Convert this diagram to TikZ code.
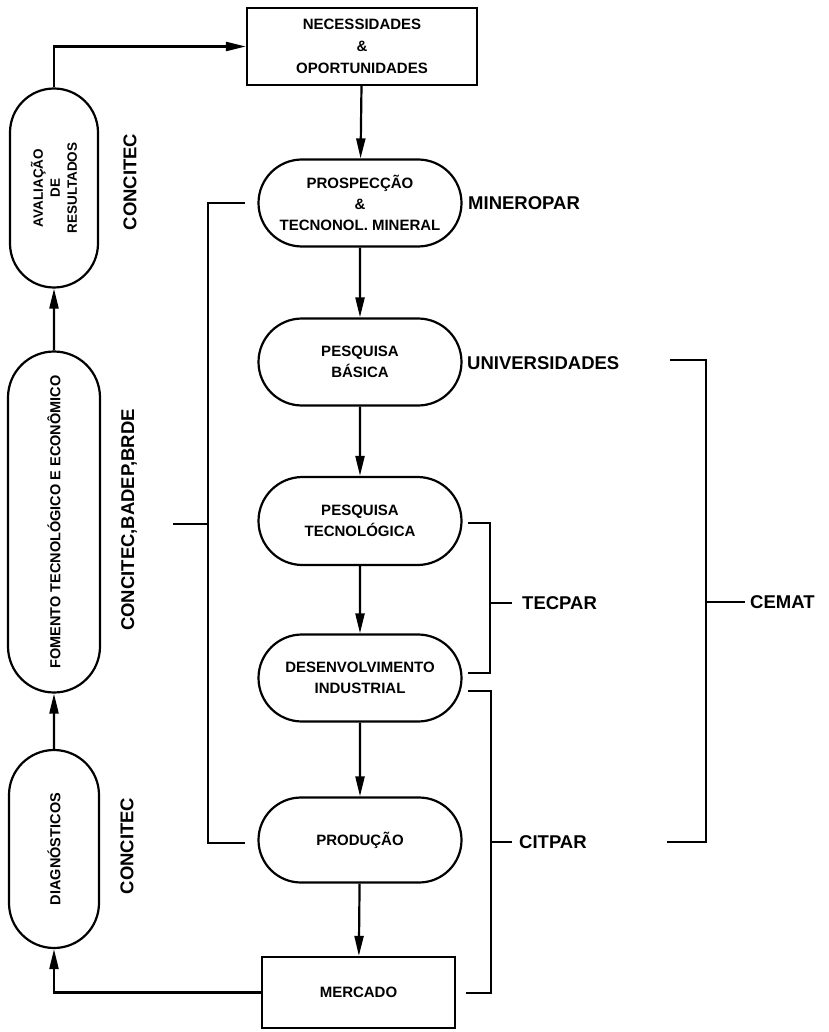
\documentclass[tikz,border=0pt]{standalone}
\usepackage{fontspec}
\setmainfont{Liberation Sans}
\usetikzlibrary{arrows.meta,shapes.misc}
\begin{document}
\begin{tikzpicture}[x=1pt,y=-1pt,
  ln/.style={line width=2.2pt},
  arr/.style={ln,-{Triangle[length=20pt,width=9pt]}},
  stadium/.style={draw,ln,rounded rectangle,inner sep=0pt,align=center,
    minimum width=203pt,minimum height=87pt,
    font=\fontsize{15}{21}\selectfont\bfseries},
  vstadium/.style={draw,ln,rounded rectangle,inner sep=0pt,align=center,rotate=90,
    font=\fontsize{14.5}{17}\selectfont\bfseries},
  boxnode/.style={draw,ln,rectangle,inner sep=0pt,align=center,
    font=\fontsize{15}{22}\selectfont\bfseries},
  lab/.style={inner sep=0pt,font=\fontsize{18.5}{20}\selectfont\bfseries},
  vlab/.style={lab,rotate=90}]
\useasboundingbox (0,0) rectangle (828,1032);
% main chain
\node[boxnode,minimum width=230pt,minimum height=77pt] (nec) at (362,46.5) {NECESSIDADES\\\&\\OPORTUNIDADES};
\node[stadium] (pros) at (360,203) {PROSPECÇÃO\\\&\\TECNONOL. MINERAL};
\node[stadium] (bas) at (360,362) {PESQUISA\\BÁSICA};
\node[stadium,minimum height=88pt] (tec) at (360,521) {PESQUISA\\TECNOLÓGICA};
\node[stadium] (des) at (360,678) {DESENVOLVIMENTO\\INDUSTRIAL};
\node[stadium,minimum height=85pt] (prod) at (360,840) {PRODUÇÃO};
\node[boxnode,minimum width=193pt,minimum height=71pt] (merc) at (358.5,992.5) {MERCADO};
\draw[arr] (nec) -- (pros);
\draw[arr] (pros) -- (bas);
\draw[arr] (bas) -- (tec);
\draw[arr] (tec) -- (des);
\draw[arr] (des) -- (prod);
\draw[arr] (prod) -- (merc);
% left column
\node[vstadium,minimum width=199pt,minimum height=88pt,font=\fontsize{13.5}{17}\selectfont\bfseries] (aval) at (54,188) {AVALIAÇÃO\\DE\\RESULTADOS};
\node[vstadium,minimum width=341pt,minimum height=92pt] (fom) at (54,522) {FOMENTO TECNOLÓGICO E ECONÔMICO};
\node[vstadium,minimum width=198pt,minimum height=90pt] (diag) at (54,849) {DIAGNÓSTICOS};
\draw[arr] (diag) -- (fom);
\draw[arr] (fom) -- (aval);
\draw[arr] (aval) |- (nec);
\draw[arr] (merc) -| (diag);
% left labels
\node[vlab] (l1) at (130,182) {CONCITEC};
\node[vlab] (l2) at (129,520) {CONCITEC,BADEP,BRDE};
\node[vlab] (l3) at (127,846) {CONCITEC};
% left bracket
\coordinate (lbt) at (245,203);
\coordinate (lbb) at (245,843);
\coordinate (lbm) at (173,524);
\draw[ln] (lbt) -- (208,203) -- (208,843) -- (lbb);
\draw[ln] (lbm) -- (208,524);
% right labels
\node[lab,anchor=west] (mine) at (468,203) {MINEROPAR};
\node[lab,anchor=west] (univ) at (467,363) {UNIVERSIDADES};
% TECPAR bracket
\coordinate (tk1) at (512,603);
\draw[ln] (468,523) -- (490,523) -- (490,673) -- (468,673);
\draw[ln] (490,603) -- (tk1);
\node[lab,anchor=west] (tecpar) at (522,603) {TECPAR};
% CITPAR bracket
\coordinate (tk2) at (512,842);
\draw[ln] (468,691) -- (491,691) -- (491,993) -- (466,993);
\draw[ln] (491,842) -- (tk2);
\node[lab,anchor=west] (citpar) at (519,842) {CITPAR};
% CEMAT bracket
\coordinate (tk3) at (745,602);
\draw[ln] (670,360) -- (706,360) -- (706,842) -- (667,842);
\draw[ln] (706,602) -- (tk3);
\node[lab,anchor=west] (cemat) at (750,602) {CEMAT};
\end{tikzpicture}
\end{document}
